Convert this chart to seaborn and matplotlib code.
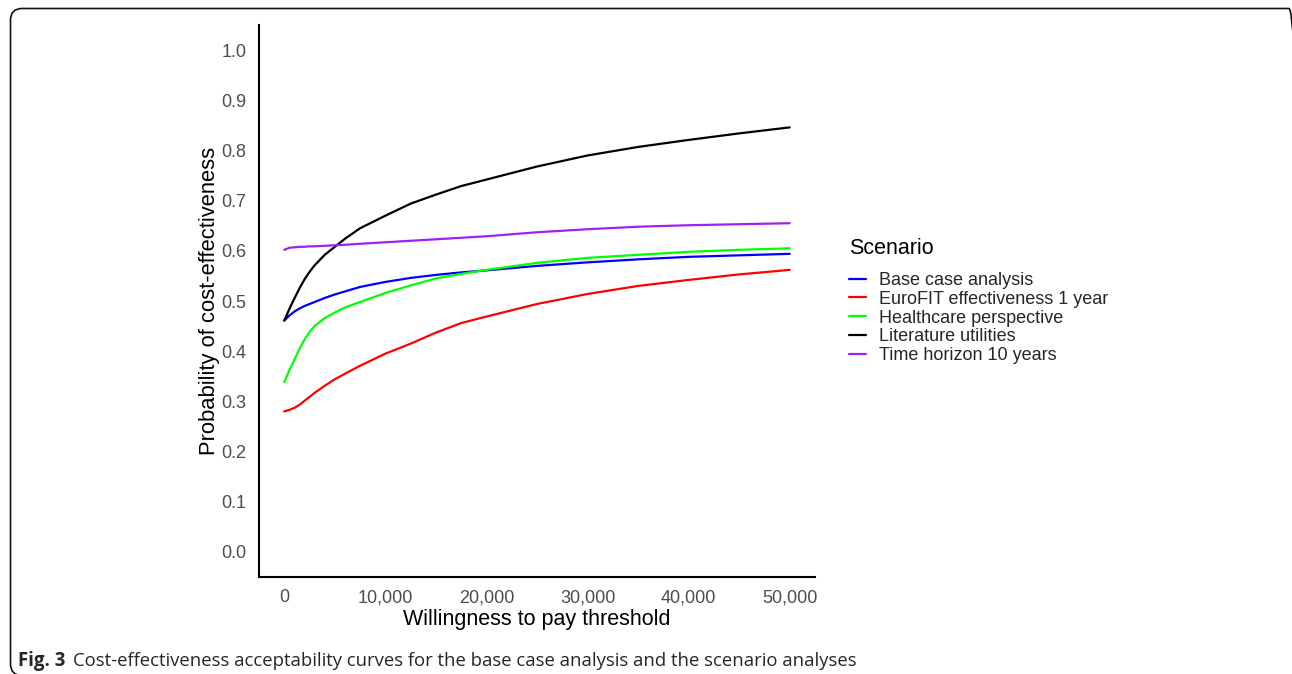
import numpy as np
import pandas as pd
import matplotlib
matplotlib.use("Agg")
import matplotlib.pyplot as plt
from matplotlib.patches import FancyBboxPatch
from matplotlib.ticker import FuncFormatter
import seaborn as sns

# Willingness-to-pay thresholds (euro per QALY)
wtp = [0, 500, 1000, 1500, 2000, 2500, 3000, 4000, 5000, 6000, 7500, 10000,
       12500, 15000, 17500, 20000, 25000, 30000, 35000, 40000, 45000, 50000]

# Probability of cost-effectiveness per scenario
base_case = [0.461, 0.471, 0.479, 0.485, 0.490, 0.494, 0.498, 0.506, 0.513, 0.519,
             0.528, 0.538, 0.546, 0.552, 0.557, 0.561, 0.570, 0.577, 0.583, 0.588,
             0.591, 0.594]
eurofit_1yr = [0.280, 0.283, 0.287, 0.293, 0.301, 0.309, 0.317, 0.331, 0.344, 0.355,
               0.371, 0.395, 0.415, 0.437, 0.456, 0.469, 0.494, 0.514, 0.530, 0.542,
               0.553, 0.562]
healthcare = [0.338, 0.362, 0.383, 0.404, 0.423, 0.438, 0.450, 0.466, 0.477, 0.487,
              0.498, 0.516, 0.531, 0.545, 0.554, 0.562, 0.576, 0.586, 0.592, 0.598,
              0.602, 0.605]
literature = [0.461, 0.484, 0.505, 0.525, 0.543, 0.558, 0.571, 0.592, 0.608, 0.624,
              0.645, 0.670, 0.694, 0.712, 0.729, 0.742, 0.768, 0.790, 0.807, 0.821,
              0.834, 0.846]
horizon_10 = [0.602, 0.606, 0.607, 0.608, 0.608, 0.609, 0.609, 0.610, 0.611, 0.612,
              0.614, 0.617, 0.620, 0.623, 0.626, 0.629, 0.637, 0.643, 0.648, 0.651,
              0.653, 0.655]

scenarios = ["Base case analysis", "EuroFIT effectiveness 1 year",
             "Healthcare perspective", "Literature utilities", "Time horizon 10 years"]
colors = ["#0000FF", "#FF0000", "#00FF00", "#000000", "#A020F0"]

y_ticks = [0.0, 0.1, 0.2, 0.3, 0.4, 0.5, 0.6, 0.7, 0.8, 0.9, 1.0]
x_ticks = [0, 10000, 20000, 30000, 40000, 50000]

series = [base_case, eurofit_1yr, healthcare, literature, horizon_10]
df = pd.concat(
    [pd.DataFrame({"wtp": wtp, "prob": vals, "Scenario": name})
     for name, vals in zip(scenarios, series)],
    ignore_index=True,
)

sns.set_style("white")
plt.rcParams["font.family"] = ["Liberation Sans", "DejaVu Sans"]

fig = plt.figure(figsize=(12.92, 6.74), dpi=100)
W, H = 1292, 674

# rounded figure frame (right and bottom edges run just past the canvas)
frame = FancyBboxPatch((10.5 / W, -1.5 / H), 1290 / W, (666 + 1.5 - 0.5) / H,
                       boxstyle="round,pad=0,rounding_size=0.009",
                       transform=fig.transFigure, fill=False,
                       edgecolor="#111111", linewidth=1.2,
                       mutation_aspect=W / H)
fig.patches.append(frame)

ax = fig.add_axes([259 / W, 1 - 577 / H, (815 - 259) / W, (577 - 25) / H])
sns.lineplot(data=df, x="wtp", y="prob", hue="Scenario", hue_order=scenarios,
             palette=colors, linewidth=1.6, ax=ax, legend=False)

ax.set_xlim(-2500, 52500)
ax.set_ylim(-0.05, 1.05)
ax.set_xticks(x_ticks)
ax.set_yticks(y_ticks)
ax.xaxis.set_major_formatter(FuncFormatter(lambda v, p: f"{int(v):,}"))
ax.yaxis.set_major_formatter(FuncFormatter(lambda v, p: f"{v:.1f}"))
ax.tick_params(axis="both", which="major", direction="out", length=5, width=1.1,
               color="#333333", labelcolor="#4D4D4D", labelsize=13, pad=4)
for side in ["top", "right"]:
    ax.spines[side].set_visible(False)
for side in ["left", "bottom"]:
    ax.spines[side].set_color("#000000")
    ax.spines[side].set_linewidth(1.5)
ax.set_xlabel("Willingness to pay threshold", fontsize=15.5, color="#000000", labelpad=2)
ax.set_ylabel("Probability of cost-effectiveness", fontsize=15.8, color="#000000", labelpad=1)

# legend: title and keys
fig.text(849 / W, 1 - 248 / H, "Scenario", fontsize=15.5, color="#000000",
         va="center", ha="left")
handles = [plt.Line2D([], [], color=c, linewidth=1.6) for c in colors]
leg = fig.legend(handles, scenarios, loc="upper left",
                 bbox_to_anchor=(849 / W, 1 - 272 / H), frameon=False,
                 fontsize=13, handlelength=0.95, handletextpad=0.72,
                 labelspacing=0.1, borderpad=0, borderaxespad=0)

# caption
fig.text(18 / W, 1 - 661 / H, "Fig. 3", fontsize=13.4, fontweight="bold",
         va="center", ha="left", family=["Open Sans", "DejaVu Sans"])
fig.text(73 / W, 1 - 661 / H,
         "Cost-effectiveness acceptability curves for the base case analysis and the scenario analyses",
         fontsize=13.3, va="center", ha="left", family=["Open Sans", "DejaVu Sans"])

fig.savefig("out.png", dpi=100)
